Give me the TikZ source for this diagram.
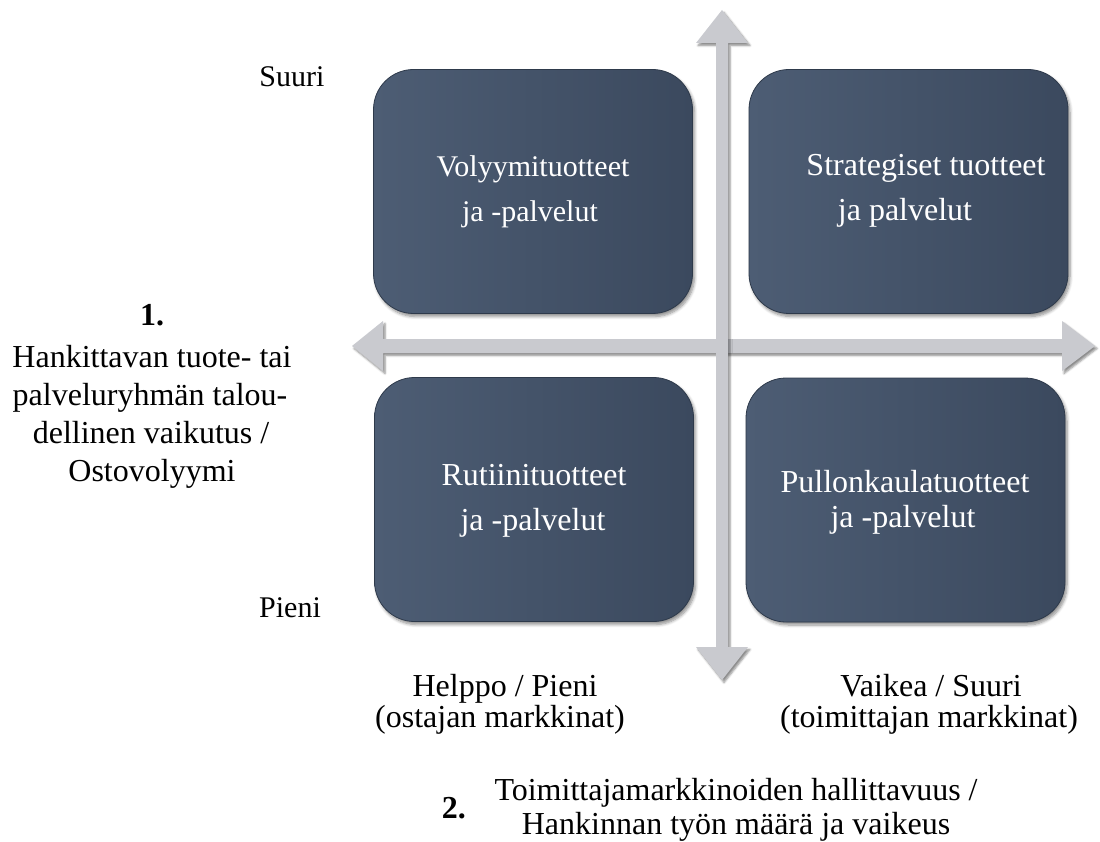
\documentclass[tikz,border=0pt]{standalone}
\usepackage{fontspec}
\setmainfont{Liberation Serif}
\usetikzlibrary{shadows.blur}
\definecolor{boxA}{HTML}{4D5D74}
\definecolor{boxB}{HTML}{3B495E}
\definecolor{boxEdge}{HTML}{2E3A4B}
\definecolor{arrowFill}{HTML}{C9CACF}
\tikzset{
  qbox/.style={rectangle, rounded corners=40pt, minimum width=319pt, minimum height=244pt,
    left color=boxA, right color=boxB, draw=boxEdge, line width=0.8pt, inner sep=0pt,
    blur shadow={shadow xshift=2pt, shadow yshift=-3pt, shadow blur steps=6, shadow blur radius=3pt, shadow opacity=45}},
  axisarrow/.style={fill=arrowFill,
    blur shadow={shadow xshift=2pt, shadow yshift=-2.5pt, shadow blur steps=5, shadow blur radius=2pt, shadow opacity=45}},
  lbl/.style={font=\fontsize{32}{36}\selectfont, inner sep=0pt, anchor=base},
  smalllbl/.style={font=\fontsize{30}{34}\selectfont, inner sep=0pt, anchor=base},
  numlbl/.style={font=\bfseries\fontsize{32}{36}\selectfont, inner sep=0pt, anchor=base},
  boxtxt/.style={lbl, text=white},
  boxtxtS/.style={font=\fontsize{30}{34}\selectfont, inner sep=0pt, anchor=base, text=white}
}
\begin{document}
\begin{tikzpicture}[x=1pt, y=-1pt]
\useasboundingbox (0,0) rectangle (1100,842);
% axes
\path[axisarrow] (352,346) -- (383,321) -- (383,339) -- (1062,339) -- (1062,321) -- (1095,346) -- (1062,371) -- (1062,353) -- (383,353) -- (383,371) -- cycle;
\path[axisarrow] (722,10) -- (748,43) -- (728,43) -- (728,647) -- (748,647) -- (722,680) -- (696,647) -- (716,647) -- (716,43) -- (696,43) -- cycle;
% boxes
\node[qbox] (tl) at (533,191.5) {};
\node[qbox] (tr) at (908.5,191.5) {};
\node[qbox] (bl) at (534,499.5) {};
\node[qbox] (br) at (905.5,500) {};
% box texts
\node[boxtxtS] (tl1) at (533,177) {Volyymituotteet};
\node[boxtxtS] (tl2) at (530,222) {ja -palvelut};
\node[boxtxt] (tr1) at (926,176) {Strategiset tuotteet};
\node[boxtxt] (tr2) at (905,221) {ja palvelut};
\node[boxtxt] (bl1) at (534,485) {Rutiinituotteet};
\node[boxtxt] (bl2) at (533,530) {ja -palvelut};
\node[boxtxt] (br1) at (905,492) {Pullonkaulatuotteet};
\node[boxtxt] (br2) at (903,527) {ja -palvelut};
% vertical axis labels
\node[smalllbl] (suuri) at (292,87) {Suuri};
\node[smalllbl] (pieni) at (290,617) {Pieni};
\node[numlbl] (n1) at (152,325) {1.};
\node[lbl] (y1) at (152,367) {Hankittavan tuote- tai};
\node[lbl] (y2) at (150,405) {palveluryhmän talou-};
\node[lbl] (y3) at (151,443) {dellinen vaikutus /};
\node[lbl] (y4) at (152,481) {Ostovolyymi};
% horizontal axis labels
\node[lbl] (h1) at (505,696) {Helppo / Pieni};
\node[lbl] (h2) at (500,727) {(ostajan markkinat)};
\node[lbl] (v1) at (931,696) {Vaikea / Suuri};
\node[lbl] (v2) at (929,727) {(toimittajan markkinat)};
\node[numlbl, anchor=base east] (n2) at (466,818) {2.};
\node[lbl] (x1) at (736,800) {Toimittajamarkkinoiden hallittavuus /};
\node[lbl] (x2) at (736,834) {Hankinnan työn määrä ja vaikeus};
\end{tikzpicture}
\end{document}
